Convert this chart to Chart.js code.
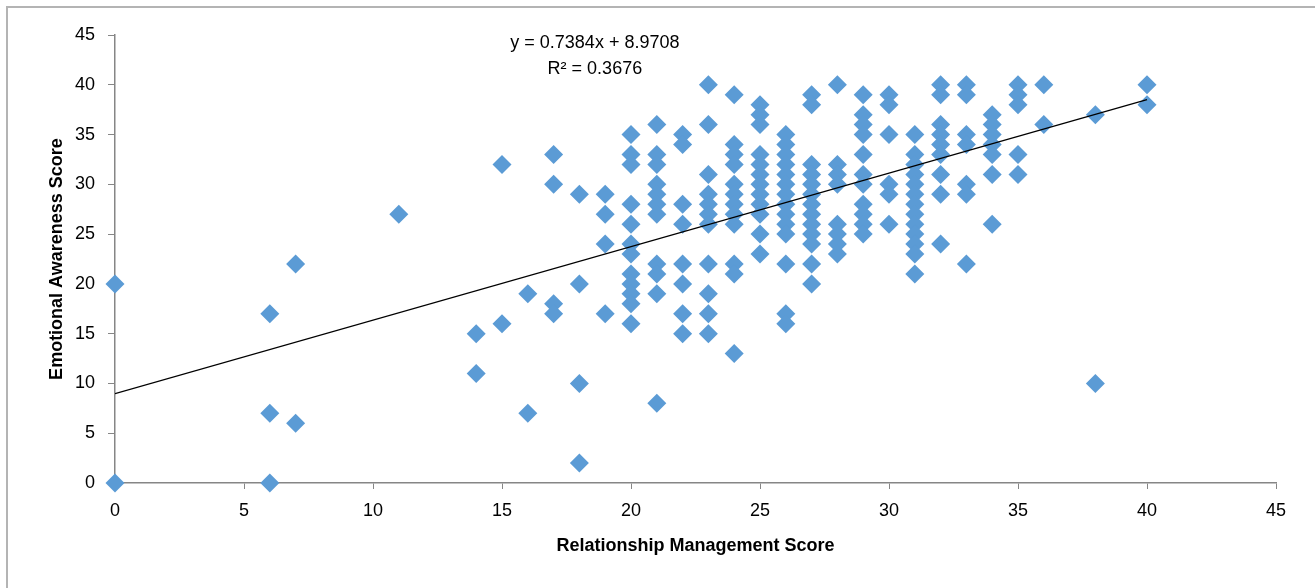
<!DOCTYPE html>
<html lang="en">
<head>
    <meta charset="UTF-8">
    <title>Emotional Awareness vs Relationship Management</title>
    <script src="https://cdn.jsdelivr.net/npm/chart.js"></script>
    <style>
        body {
            margin: 0;
            background: #FFFFFF;
            overflow: hidden;
        }
        .frame {
            position: absolute;
            left: 6px;
            top: 6px;
            width: 1400px;
            height: 700px;
            border: 2px solid #B4B4B4;
        }
        .chart-box {
            position: absolute;
            left: 0;
            top: 0;
            width: 1315px;
            height: 588px;
        }
    </style>
</head>
<body>
    <div class="frame"></div>
    <div class="chart-box">
        <canvas id="chart" width="1315" height="588"></canvas>
    </div>
    <script>
        // Relationship Management score (x) for each column of points
        const rmScores = [0, 6, 7, 11, 14, 15, 16, 17, 18, 19, 20, 21, 22, 23, 24, 25, 26, 27, 28, 29, 30, 31, 32, 33, 34, 35, 36, 38, 40];
        // Emotional Awareness scores (y) found at each x above
        const eaScores = [
            [20, 0],
            [17, 7, 0],
            [22, 6],
            [27],
            [15, 11],
            [32, 16],
            [19, 7],
            [33, 30, 18, 17],
            [29, 20, 10, 2],
            [29, 27, 24, 17],
            [35, 33, 32, 28, 26, 24, 23, 21, 20, 19, 18, 16],
            [36, 33, 32, 30, 29, 28, 27, 22, 21, 19, 8],
            [35, 34, 28, 26, 22, 20, 17, 15],
            [40, 36, 31, 29, 28, 27, 26, 22, 19, 17, 15],
            [39, 34, 33, 32, 30, 29, 28, 27, 26, 22, 21, 13],
            [38, 37, 36, 33, 32, 31, 30, 29, 28, 27, 25, 23],
            [35, 34, 33, 32, 31, 30, 29, 28, 27, 26, 25, 22, 17, 16],
            [39, 38, 32, 31, 30, 29, 28, 27, 26, 25, 24, 22, 20],
            [40, 32, 31, 30, 26, 25, 24, 23],
            [39, 37, 36, 35, 33, 31, 30, 28, 27, 26, 25],
            [39, 38, 35, 30, 29, 26],
            [35, 33, 32, 31, 30, 29, 28, 27, 26, 25, 24, 23, 21],
            [40, 39, 36, 35, 34, 33, 31, 29, 24],
            [40, 39, 35, 34, 30, 29, 22],
            [37, 36, 35, 34, 33, 31, 26],
            [40, 39, 38, 33, 31],
            [40, 36],
            [37, 10],
            [40, 38]
        ];
        // Linear trendline ends, as shown in the chart
        const trendX = [0, 40];
        const trendY = [8.97, 38.51];
        const trendLabels = ["y = 0.7384x + 8.9708", "R² = 0.3676"];
        const axisTicks = [0, 5, 10, 15, 20, 25, 30, 35, 40, 45];

        const FONT = "'Liberation Sans', Arial, sans-serif";

        const points = [];
        rmScores.forEach((x, i) => {
            eaScores[i].forEach(y => points.push({ x: x, y: y }));
        });
        const trendPoints = trendX.map((x, i) => ({ x: x, y: trendY[i] }));

        // Writes the trendline equation above the cloud, like Excel does
        const equationLabel = {
            id: 'equationLabel',
            afterDatasetsDraw(chart) {
                const { ctx, scales } = chart;
                const cx = scales.x.getPixelForValue(18.6);
                const cy = scales.y.getPixelForValue(44.2);
                ctx.save();
                ctx.fillStyle = '#000000';
                ctx.font = '18px ' + FONT;
                ctx.textAlign = 'center';
                ctx.textBaseline = 'middle';
                ctx.fillText(trendLabels[0], cx, cy);
                ctx.fillText(trendLabels[1], cx, cy + 26);
                ctx.restore();
            }
        };

        const axisColor = '#868686';

        const ctx = document.getElementById('chart').getContext('2d');
        const chart = new Chart(ctx, {
            type: 'scatter',
            data: {
                datasets: [
                    {
                        label: 'Linear trend',
                        data: trendPoints,
                        showLine: true,
                        borderColor: '#000000',
                        borderWidth: 1.3,
                        pointRadius: 0,
                        order: 0
                    },
                    {
                        label: 'Scores',
                        data: points,
                        pointStyle: 'rectRot',
                        pointRadius: 9.5,
                        pointBorderWidth: 0,
                        backgroundColor: '#5B9BD5',
                        borderColor: '#5B9BD5',
                        clip: false,
                        order: 1
                    }
                ]
            },
            options: {
                responsive: false,
                animation: false,
                layout: {
                    padding: { left: 0, top: 35, right: 39, bottom: 0 }
                },
                plugins: {
                    legend: { display: false },
                    tooltip: { enabled: false }
                },
                scales: {
                    x: {
                        type: 'linear',
                        min: 0,
                        max: 45,
                        afterBuildTicks: scale => {
                            scale.ticks = axisTicks.map(v => ({ value: v }));
                        },
                        afterFit: scale => { scale.height = 105; },
                        ticks: {
                            color: '#000000',
                            font: { family: FONT, size: 18 },
                            padding: 11
                        },
                        grid: {
                            drawOnChartArea: false,
                            drawTicks: true,
                            tickLength: 6,
                            color: axisColor
                        },
                        border: { color: axisColor, width: 1.5 },
                        title: {
                            display: true,
                            text: 'Relationship Management Score',
                            color: '#000000',
                            font: { family: FONT, size: 18, weight: 'bold' },
                            padding: { top: 0, bottom: 31 }
                        }
                    },
                    y: {
                        type: 'linear',
                        min: 0,
                        max: 45,
                        afterBuildTicks: scale => {
                            scale.ticks = axisTicks.map(v => ({ value: v }));
                        },
                        afterFit: scale => { scale.width = 115; },
                        ticks: {
                            color: '#000000',
                            font: { family: FONT, size: 18 },
                            padding: 13
                        },
                        grid: {
                            drawOnChartArea: false,
                            drawTicks: true,
                            tickLength: 7,
                            color: axisColor
                        },
                        border: { color: axisColor, width: 1.5 },
                        title: {
                            display: true,
                            text: 'Emotional Awareness Score',
                            color: '#000000',
                            font: { family: FONT, size: 18, weight: 'bold' },
                            padding: { top: 46, bottom: 0 }
                        }
                    }
                }
            },
            plugins: [equationLabel]
        });
    </script>
</body>
</html>
